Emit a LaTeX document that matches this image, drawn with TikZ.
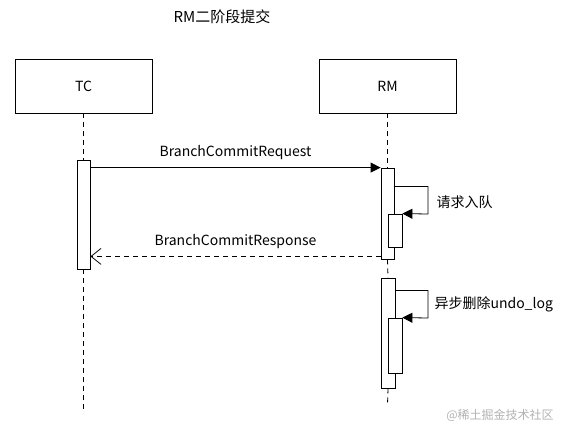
\documentclass[tikz,border=0pt]{standalone}
\usepackage{fontspec}
\setmainfont{Noto Sans CJK SC}
\usetikzlibrary{arrows.meta,calc}
\tikzset{
  actor/.style={draw,line width=0.9pt,minimum width=137pt,minimum height=54pt,font=\fontsize{14}{16}\selectfont},
  act/.style={draw,fill=white,line width=0.8pt,inner sep=0pt},
  life/.style={line width=0.8pt,dash pattern=on 5pt off 4pt},
  msg/.style={line width=0.8pt,-{Triangle[length=10pt,width=10pt]}},
  reply/.style={line width=0.8pt,dash pattern=on 5pt off 4pt,-{Straight Barb[length=10pt,width=16pt]}},
  lbl/.style={font=\fontsize{14}{16}\selectfont}
}
\begin{document}
\begin{tikzpicture}[x=1pt,y=-1pt]
\useasboundingbox (0,0) rectangle (567,435);
\node[lbl,font=\fontsize{15}{17}\selectfont] (title) at (222,17) {RM二阶段提交};
\node[actor] (tc) at (83.5,86) {TC};
\node[actor] (rm) at (387.5,86) {RM};
\node[act,minimum width=13pt,minimum height=109pt] (tcact) at (83.5,214.5) {};
\node[act,minimum width=13pt,minimum height=91pt] (rmact1) at (387.5,213.5) {};
\node[act,minimum width=14pt,minimum height=33pt] (rmsub1) at (395,230.5) {};
\node[act,minimum width=14pt,minimum height=110pt] (rmact2) at (388,333) {};
\node[act,minimum width=14pt,minimum height=55pt] (rmsub2) at (395,345.5) {};
\coordinate (tcend) at (83.5,413);
\coordinate (rmend) at (387.5,405);
\draw[life] (tc.south) -- (tcact.north);
\draw[life] (tcact.south) -- (tcend);
\draw[life] (rm.south) -- (rmact1.north);
\draw[life] (rmact1.south) -- (rmact2.north);
\draw[life] (rmact2.south) -- (rmend);
\draw[msg] (tcact.east |- rmact1.north west) -- (rmact1.north west) node[lbl,midway,above=4pt] (req) {BranchCommitRequest};
\draw[reply] ($(rmact1.south west)+(0,-3)$) -- (tcact.east |- {$(rmact1.south west)+(0,-3)$}) node[lbl,midway,above=4pt] (resp) {BranchCommitResponse};
\draw[msg] ($(rmact1.north east)+(0,19)$) -| (428,214) -- (rmsub1.north east);
\node[lbl,anchor=west] (q) at (433,202) {请求入队};
\draw[msg] ($(rmact2.north east)+(0,13)$) -| (428,318) -- (rmsub2.north east);
\node[lbl,anchor=west] (del) at (431,304) {异步删除undo\_log};
\node[text=black!30,font=\fontsize{12}{14}\selectfont] (wm) at (500,415) {@稀土掘金技术社区};
\end{tikzpicture}
\end{document}
